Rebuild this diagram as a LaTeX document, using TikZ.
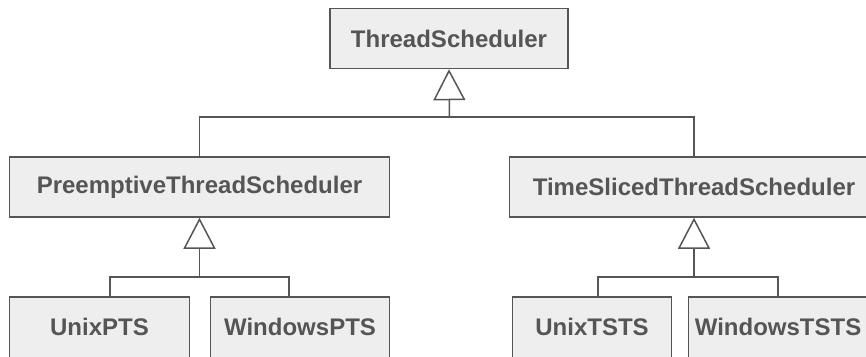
\documentclass[tikz,border=0pt]{standalone}
\usepackage{fontspec}
\setmainfont{Liberation Sans}
\usetikzlibrary{arrows.meta,positioning}
\definecolor{umlgray}{HTML}{555555}
\definecolor{umlfill}{HTML}{EEEEEE}
\tikzset{classbox/.style={rectangle,draw=umlgray,line width=1.5pt,fill=umlfill,text=umlgray,
			font=\fontsize{24}{28}\selectfont\bfseries,inner sep=0pt,minimum height=60pt},
		leafbox/.style={classbox,minimum height=70pt,text height=17.4pt,text depth=11.4pt},
		genline/.style={line width=1.5pt,draw=umlgray},
		inherit/.style={-{Triangle[open,length=31pt,width=32pt]},line width=1.5pt,draw=umlgray}}
\begin{document}
\begin{tikzpicture}[x=1pt,y=-1pt]
		\useasboundingbox (0,0) rectangle (866,356);
		\clip (0,0) rectangle (866,356);
		% base class
		\node[classbox,minimum width=238pt] (sched) at (449,38.5) {ThreadScheduler};
		% second level
		\node[classbox,minimum width=380pt] (preempt) at (199.5,187) {PreemptiveThreadScheduler};
		\node[classbox,minimum width=369pt] (sliced) at (694,187) {TimeSlicedThreadScheduler};
		% leaves (cut off by the lower edge)
		\node[leafbox,minimum width=180pt] (unixpts) at (99.5,332) {UnixPTS};
		\node[leafbox,minimum width=179pt] (winpts) at (300,332) {WindowsPTS};
		\node[leafbox,minimum width=159pt] (unixtsts) at (592,332) {UnixTSTS};
		\node[leafbox,minimum width=179pt] (wintsts) at (778,332) {WindowsTSTS};

		\coordinate (topjoin) at (449.5,117);
		\coordinate (ptsjoin) at (199.5,277);
		\coordinate (tstsjoin) at (694,277);

		\draw[genline] (preempt.north) |- (topjoin) -| (sliced.north);
		\draw[inherit] (topjoin) -- (sched.south);
		\draw[genline] ([xshift=10.5pt]unixpts.north) |- (ptsjoin) -| ([xshift=-11pt]winpts.north);
		\draw[inherit] (ptsjoin) -- (preempt.south);
		\draw[genline] ([xshift=6pt]unixtsts.north) |- (tstsjoin) -| (wintsts.north);
		\draw[inherit] (tstsjoin) -- (sliced.south);
	\end{tikzpicture}
\end{document}
